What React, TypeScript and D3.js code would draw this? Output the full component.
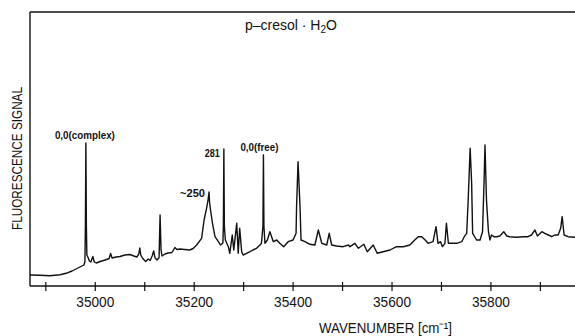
import React from "react";
import * as d3 from "d3";

const wavenumber = [
  34868, 34888, 34908, 34929, 34941, 34953, 34963, 34971, 34977, 34979, 34980, 34981, 34982, 34983,
  34985, 34988, 34991, 34995, 34998, 35002, 35010, 35020, 35028, 35031, 35034, 35042, 35050, 35060,
  35070, 35078, 35084, 35088, 35090, 35092, 35096, 35102, 35107, 35111, 35115, 35118, 35121, 35125,
  35129, 35131, 35133, 35135, 35141, 35147, 35155, 35161, 35165, 35171, 35181, 35191, 35198, 35205,
  35215, 35220, 35225, 35228, 35230, 35231, 35233, 35237, 35242, 35249, 35253, 35258, 35259, 35260,
  35261, 35263, 35269, 35272, 35277, 35280, 35286, 35289, 35292, 35296, 35299, 35306, 35313, 35319,
  35326, 35333, 35336, 35339, 35340, 35341, 35343, 35348, 35353, 35360, 35367, 35373, 35381, 35390,
  35400, 35406, 35407, 35410, 35414, 35416, 35424, 35434, 35444, 35451, 35458, 35468, 35473, 35478,
  35488, 35501, 35512, 35515, 35525, 35532, 35543, 35550, 35562, 35570, 35582, 35596, 35609, 35623,
  35636, 35646, 35653, 35660, 35667, 35673, 35683, 35689, 35693, 35698, 35702, 35707, 35710, 35714,
  35721, 35731, 35741, 35746, 35751, 35754, 35758, 35761, 35763, 35771, 35778, 35783, 35786, 35788,
  35791, 35795, 35798, 35801, 35806, 35812, 35818, 35826, 35832, 35838, 35852, 35865, 35875, 35882,
  35889, 35894, 35903, 35909, 35916, 35923, 35929, 35936, 35941, 35944, 35948, 35956, 35970,
];

const signal = [
  11, 10.7, 10.3, 11.3, 12.7, 15, 17.5, 19.5, 21, 24, 60, 143, 60, 31,
  29, 25, 24, 29.5, 24, 23, 24.5, 26, 27.5, 32.5, 28, 29, 29.5, 31,
  31.5, 30, 29, 32, 38, 31, 27.5, 24.5, 27, 25.5, 30, 35, 28, 26,
  28.5, 71, 36, 30, 32, 33, 33.5, 38.5, 36.5, 37, 36.5, 36, 37.5, 41,
  47.7, 66, 77.7, 86, 94, 84, 76, 62.7, 49.3, 44.3, 41, 43, 60, 137,
  60, 46, 39.3, 32.7, 51, 36, 62.7, 32.7, 57.7, 34.3, 31, 32.7, 34.3, 36,
  37.7, 41, 42.7, 60, 131, 60, 42.7, 46, 54.3, 44.3, 46, 42.7, 39.3, 44.3,
  46, 52.7, 79.3, 124.3, 79.3, 46, 44.3, 41.7, 41, 56, 42.7, 41, 52.7, 41,
  40, 39.3, 41, 39.3, 42.7, 37.7, 41.7, 34.3, 41, 32.7, 34.3, 36, 39.3, 39.3,
  41, 46, 49.3, 49.3, 46, 42.7, 44.3, 59.3, 42.7, 44.3, 39.3, 42.7, 62.7, 42.7,
  42.7, 42.7, 44.3, 49.3, 52.7, 86, 137.7, 102.7, 52.7, 46, 46, 54.3, 102.7, 141,
  86, 54.3, 46, 51, 49.3, 49.3, 50, 54.3, 50, 49.3, 48.7, 49.3, 49.3, 51,
  56, 50, 54.3, 52.7, 51, 49.3, 51, 51, 57.7, 69.3, 51, 49.3, 48.7,
];

const majorTicks = [35000, 35200, 35400, 35600, 35800];
const minorTicks = [34900, 35100, 35300, 35500, 35700, 35900];

const peakLabelText = ["0,0(complex)", "~250", "281", "0,0(free)"];
const peakLabelAt = [34981, 35230, 35260, 35340];

const W = 575;
const H = 336;
const FONT = "'Liberation Sans Narrow', 'Liberation Sans', Arial, sans-serif";

export default function App() {
  const x = d3.scaleLinear().domain([34868, 35970]).range([30, 575]);
  const y = d3.scaleLinear().domain([0, 274]).range([286, 12]);

  const pts: [number, number][] = wavenumber.map((v, i) => [v, signal[i]]);
  const line = d3
    .line<[number, number]>()
    .x((d) => x(d[0]))
    .y((d) => y(d[1]));

  const peakTop = (v: number) => signal[wavenumber.indexOf(v)];

  const ink = "#111";

  return (
    <div style={{ position: "absolute", left: 0, top: 0, width: W, height: H, background: "#fff" }}>
      <svg width={W} height={H} style={{ display: "block" }}>
        <rect width={W} height={H} fill="#fff" />
        {/* frame */}
        <line x1={x.range()[0]} x2={W} y1={y(274)} y2={y(274)} stroke={ink} strokeWidth={1.4} />
        <line x1={x.range()[0]} x2={x.range()[0]} y1={y(274)} y2={y(0)} stroke={ink} strokeWidth={1.4} />
        <line x1={x.range()[0]} x2={W} y1={y(0)} y2={y(0)} stroke={ink} strokeWidth={1.5} />
        {/* ticks */}
        {majorTicks.concat(minorTicks).map((t) => (
          <line key={"t" + t} x1={x(t)} x2={x(t)} y1={y(0) - 4} y2={y(0) + 5} stroke={ink} strokeWidth={1.2} />
        ))}
        {majorTicks.map((t) => (
          <text
            key={"l" + t}
            x={x(t)}
            y={306.5}
            textAnchor="middle"
            fontFamily={FONT}
            fontSize={15}
            fill={ink}
            textLength={38}
            lengthAdjust="spacingAndGlyphs"
          >
            {t}
          </text>
        ))}
        {/* spectrum */}
        <path d={line(pts) || ""} fill="none" stroke={ink} strokeWidth={1.4} strokeLinejoin="round" />
        {/* peak labels */}
        <text x={x(peakLabelAt[0]) - 1} y={y(peakTop(peakLabelAt[0])) - 4} textAnchor="middle"
          fontFamily={FONT} fontWeight="bold" fontSize={10} fill={ink} textLength={60} lengthAdjust="spacingAndGlyphs">
          {peakLabelText[0]}
        </text>
        <text x={x(peakLabelAt[1]) - 4} y={y(peakTop(peakLabelAt[1])) + 5} textAnchor="end"
          fontFamily={FONT} fontWeight="bold" fontSize={10} fill={ink} textLength={25} lengthAdjust="spacingAndGlyphs">
          {peakLabelText[1]}
        </text>
        <text x={x(peakLabelAt[2]) - 4} y={y(peakTop(peakLabelAt[2])) + 8} textAnchor="end"
          fontFamily={FONT} fontWeight="bold" fontSize={10} fill={ink} textLength={15} lengthAdjust="spacingAndGlyphs">
          {peakLabelText[2]}
        </text>
        <text x={x(peakLabelAt[3]) - 4} y={y(peakTop(peakLabelAt[3])) - 4} textAnchor="middle"
          fontFamily={FONT} fontWeight="bold" fontSize={10} fill={ink} textLength={38} lengthAdjust="spacingAndGlyphs">
          {peakLabelText[3]}
        </text>
        {/* title */}
        <text x={245} y={30} fontFamily="'Liberation Sans', Arial, sans-serif" fontSize={14} fill={ink}>
          p–cresol · H<tspan fontSize={10} dy={3}>2</tspan><tspan dy={-3}>O</tspan>
        </text>
        {/* y axis label */}
        <text
          transform={`translate(22, ${(87 + 230) / 2}) rotate(-90)`}
          textAnchor="middle"
          fontFamily={FONT}
          fontSize={14}
          fill={ink}
          textLength={143}
          lengthAdjust="spacingAndGlyphs"
        >
          FLUORESCENCE SIGNAL
        </text>
        {/* x axis label */}
        <text x={319} y={333} fontFamily={FONT} fontSize={15} fill={ink} textLength={133} lengthAdjust="spacingAndGlyphs">
          WAVENUMBER [cm⁻¹]
        </text>
      </svg>
    </div>
  );
}
